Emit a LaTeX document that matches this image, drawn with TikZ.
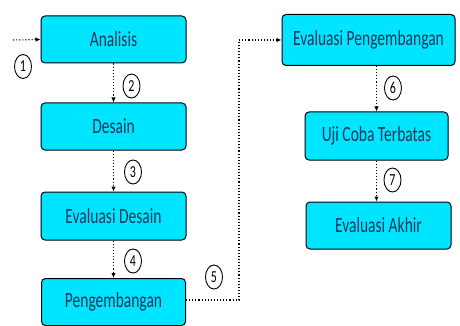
\documentclass[tikz,border=0pt]{standalone}
\usepackage{fontspec}
\usepackage{graphicx}
\setmainfont{Carlito}
\usetikzlibrary{arrows.meta,shapes.geometric}
\definecolor{boxfill}{RGB}{0,229,255}
\definecolor{boxtext}{RGB}{22,54,92}
\newcommand{\tall}[1]{\scalebox{1}[1.4]{#1}}

\begin{document}
\begin{tikzpicture}[
            x=1pt, y=-1pt,
            stage/.style={draw=black, line width=1pt, rounded corners=4pt, fill=boxfill,
                text=boxtext, font=\fontsize{15.5}{18}\selectfont, inner sep=0pt},
            num/.style={draw=black, line width=0.9pt, ellipse, minimum width=17pt, minimum height=24pt,
                inner sep=0pt, font=\fontsize{12}{13}\selectfont},
            flow/.style={dotted, line width=1.1pt, -{Latex[length=5pt,width=4.5pt]}}
        ]

            % frame of the picture
            \useasboundingbox (0,0) rectangle (460,326);
            \clip (0,0) rectangle (460,326);

            % 1. Left column
            \node[stage, minimum width=145pt, minimum height=47pt] (analisis) at (113.5,39.5) {\tall{Analisis}};
            \node[stage, minimum width=145pt, minimum height=47pt] (desain) at (113.5,126.5) {\tall{Desain}};
            \node[stage, minimum width=145pt, minimum height=48pt] (evaldesain) at (113.5,216) {\tall{Evaluasi Desain}};
            \node[stage, minimum width=144pt, minimum height=47pt] (pengembangan) at (113.5,302) {\tall{Pengembangan}};

            % 2. Right column
            \node[stage, minimum width=173pt, minimum height=51pt] (evalpeng) at (368.5,40) {\tall{Evaluasi Pengembangan}};
            \node[stage, minimum width=143pt, minimum height=48pt] (ujicoba) at (376.5,136) {\tall{Uji Coba Terbatas}};
            \node[stage, minimum width=145pt, minimum height=47pt] (evalakhir) at (378.5,225.5) {\tall{Evaluasi Akhir}};

            % 3. Connectors
            \coordinate (start) at (13,40);
            \coordinate (turn) at (239,40);
            \draw[flow] (start) -- (analisis.west);
            \draw[flow] (analisis.south) -- (desain.north);
            \draw[flow] (desain.south) -- (evaldesain.north);
            \draw[flow] (evaldesain.south) -- (pengembangan.north);
            \draw[flow] (pengembangan.east |- 0,300) -| (turn) -- (evalpeng.west);
            \draw[flow] (evalpeng.south -| ujicoba.north) -- (ujicoba.north);
            \draw[flow] (ujicoba.south) -- (evalakhir.north -| ujicoba.south);

            % 4. Step numbers
            \node[num] (c1) at (23,66.5) {\tall{1}};
            \node[num] (c2) at (131.5,86) {\tall{2}};
            \node[num] (c3) at (133,172) {\tall{3}};
            \node[num] (c4) at (133,261) {\tall{4}};
            \node[num] (c5) at (214,277) {\tall{5}};
            \node[num] (c6) at (393,88) {\tall{6}};
            \node[num] (c7) at (392.5,180) {\tall{7}};

        \end{tikzpicture}
\end{document}
